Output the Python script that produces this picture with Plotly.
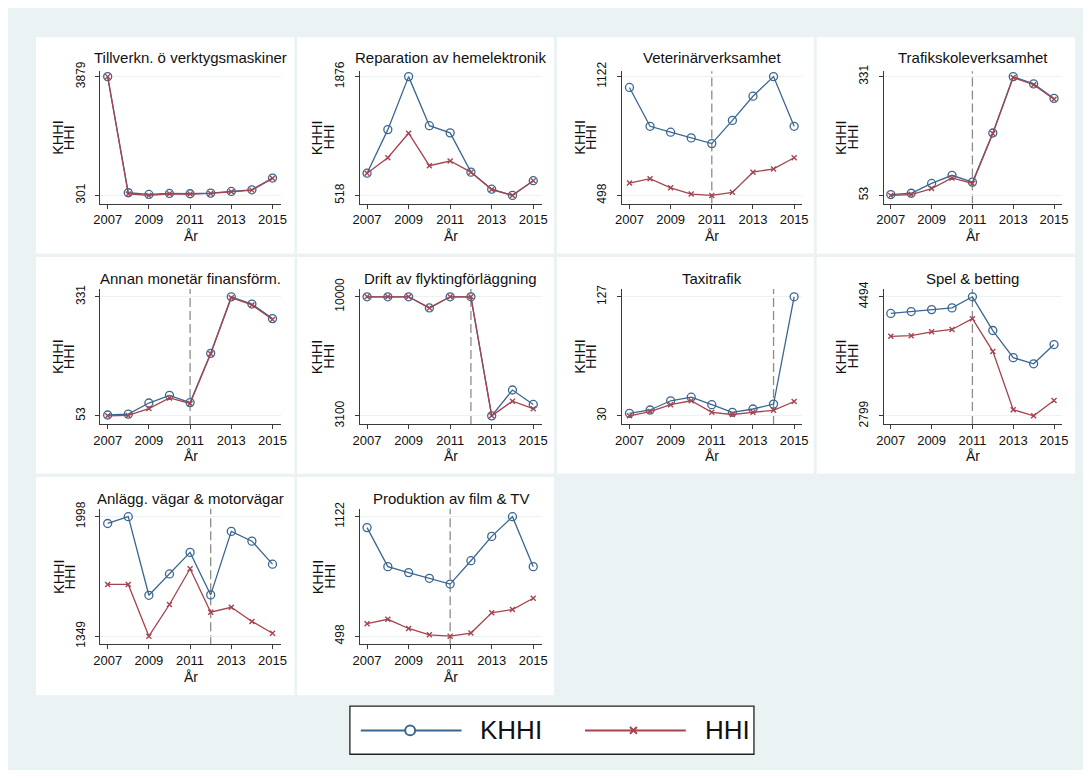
import plotly.graph_objects as go

# ---------------- data ----------------
years = [2007, 2008, 2009, 2010, 2011, 2012, 2013, 2014, 2015]

titles = [
    "Tillverkn. ö verktygsmaskiner",
    "Reparation av hemelektronik",
    "Veterinärverksamhet",
    "Trafikskoleverksamhet",
    "Annan monetär finansförm.",
    "Drift av flyktingförläggning",
    "Taxitrafik",
    "Spel & betting",
    "Anlägg. vägar & motorvägar",
    "Produktion av film & TV",
]

khhi_tillverkn = [3879, 380, 330, 360, 350, 370, 420, 470, 823]
hhi_tillverkn = [3879, 345, 301, 350, 340, 360, 410, 460, 815]

khhi_reparation = [772, 1270, 1876, 1315, 1233, 784, 589, 518, 686]
hhi_reparation = [772, 948, 1229, 858, 911, 784, 585, 518, 686]

khhi_veterinar = [1065, 861, 830, 800, 770, 892, 1019, 1122, 861]
hhi_veterinar = [563, 586, 538, 505, 498, 514, 620, 637, 696]

khhi_trafikskola = [55, 58, 81, 100, 84, 199, 331, 314, 280]
hhi_trafikskola = [53, 55, 69, 94, 81, 198, 329, 312, 278]

khhi_monetar = [55, 57, 83, 101, 84, 199, 331, 314, 280]
hhi_monetar = [53, 54, 70, 95, 82, 198, 329, 312, 278]

khhi_flykting = [10000, 10000, 10000, 9355, 10000, 10000, 3100, 4598, 3764]
hhi_flykting = [10000, 10000, 10000, 9355, 10000, 10000, 3100, 3953, 3517]

khhi_taxi = [32.1, 34.8, 42.3, 45.2, 39.1, 32.9, 35.6, 39.6, 127]
hhi_taxi = [30, 33.5, 39.1, 42.3, 32.9, 31.1, 32.9, 34.5, 41.7]

khhi_spel = [4257, 4284, 4312, 4336, 4494, 4014, 3628, 3540, 3814]
hhi_spel = [3931, 3941, 3996, 4029, 4182, 3717, 2887, 2799, 3018]

khhi_vagar = [1961, 1998, 1571, 1687, 1804, 1573, 1918, 1865, 1740]
hhi_vagar = [1630, 1630, 1349, 1521, 1715, 1479, 1506, 1429, 1365]

khhi_film = [1065, 861, 830, 800, 770, 892, 1019, 1122, 861]
hhi_film = [563, 586, 538, 505, 498, 514, 620, 637, 696]

break_years = [None, None, 2011, 2011, 2011, 2012, 2014, 2011, 2012, 2011]

x_tickvals = [2007, 2009, 2011, 2013, 2015]

khhi_all = [khhi_tillverkn, khhi_reparation, khhi_veterinar, khhi_trafikskola,
            khhi_monetar, khhi_flykting, khhi_taxi, khhi_spel, khhi_vagar, khhi_film]
hhi_all = [hhi_tillverkn, hhi_reparation, hhi_veterinar, hhi_trafikskola,
           hhi_monetar, hhi_flykting, hhi_taxi, hhi_spel, hhi_vagar, hhi_film]

# ---------------- geometry / style ----------------
PAGE = 8                      # default page margin around the figure
W, H = 1091 - 2 * PAGE, 778 - 2 * PAGE
BLUE = "#3b6690"
RED = "#a5444f"
BG = "#eaf2f3"
AXIS = "#3a3a3a"
FONT = "Arial, Liberation Sans, sans-serif"
TXT = "#111111"

# screen-pixel layout of the grid
col_axis = [(94.5, 277.0), (357.0, 541.0), (622.7, 805.0), (887.3, 1068.0)]
col_panel = [(29.3, 291.0), (293.5, 553.5), (556.5, 816.5), (819.5, 1081.0)]
row_panel = [(26.5, 247.0), (250.5, 471.0), (474.5, 697.0)]
row_tick_top = [66.7, 291.0, 515.0]
row_tick_span = [121.0, 121.3, 121.7]
row_pad_top = [5.5, 8.0, 8.0]
PAD_BOTTOM = 8.3
X_RANGE = [2006.65, 2015.4]


def px(x):
    return (x - PAGE) / W


def py(y):
    return 1 - (y - PAGE) / H


fig = go.Figure()
layout = {}
shapes = []
annotations = []

for i in range(10):
    r, c = divmod(i, 4)
    k = "" if i == 0 else str(i + 1)
    x0, x1 = col_axis[c]
    t_top = row_tick_top[r]
    t_bot = t_top + row_tick_span[r]
    top = t_top - row_pad_top[r]
    bottom = t_bot + PAD_BOTTOM

    pl, pr = col_panel[c]
    pt, pb = row_panel[r]
    shapes.append(dict(type="rect", xref="paper", yref="paper",
                       x0=px(pl), x1=px(pr), y0=py(pb), y1=py(pt),
                       fillcolor="white", line=dict(width=0), layer="below"))

    kh = khhi_all[i]
    hh = hhi_all[i]
    vmin = min(min(kh), min(hh))
    vmax = max(max(kh), max(hh))
    span = vmax - vmin
    ppu = (t_bot - t_top) / span
    yr = [vmin - PAD_BOTTOM / ppu, vmax + row_pad_top[r] / ppu]

    layout["xaxis" + k] = dict(
        domain=[px(x0), px(x1)], anchor="y" + k, range=X_RANGE,
        tickvals=x_tickvals, ticktext=[str(v) for v in x_tickvals],
        ticks="outside", ticklen=4, tickwidth=1, tickcolor=AXIS, ticklabelstandoff=0,
        showline=True, linecolor=AXIS, linewidth=1, showgrid=False, zeroline=False,
        tickfont=dict(size=13, color=TXT, family=FONT), fixedrange=True,
    )
    layout["yaxis" + k] = dict(
        domain=[py(bottom), py(top)], anchor="x" + k, range=yr,
        tickvals=[vmin, vmax], ticktext=[str(int(round(vmin))), str(int(round(vmax)))],
        ticks="outside", ticklen=4, tickwidth=1, tickcolor=AXIS, tickangle=-90,
        ticklabelstandoff=6,
        showline=True, linecolor=AXIS, linewidth=1, showgrid=True, gridcolor=BG, gridwidth=1,
        zeroline=False, tickfont=dict(size=12, color=TXT, family=FONT), fixedrange=True,
    )

    fig.add_trace(go.Scatter(
        x=years, y=kh, xaxis="x" + k, yaxis="y" + k, mode="lines+markers", name="KHHI",
        line=dict(color=BLUE, width=1.3),
        marker=dict(symbol="circle-open", size=8, color=BLUE, line=dict(width=1.3, color=BLUE)),
        showlegend=False, cliponaxis=False,
    ))
    fig.add_trace(go.Scatter(
        x=years, y=hh, xaxis="x" + k, yaxis="y" + k, mode="lines+markers", name="HHI",
        line=dict(color=RED, width=1.3),
        marker=dict(symbol="x-thin", size=5, color=RED, line=dict(width=1.4, color=RED)),
        showlegend=False, cliponaxis=False,
    ))

    if break_years[i] is not None:
        shapes.append(dict(type="line", xref="x" + k, yref="y" + k + " domain",
                           x0=break_years[i], x1=break_years[i], y0=0, y1=1,
                           line=dict(color="#8c8c8c", width=1.3, dash="9px,4px"), layer="below"))

    cx = (x0 + x1) / 2
    annotations.append(dict(text=titles[i], x=px(cx), y=py(t_top - 19), xref="paper", yref="paper",
                            xanchor="center", yanchor="middle", showarrow=False,
                            font=dict(size=15, color=TXT, family=FONT)))
    annotations.append(dict(text="År", x=px(cx), y=py(bottom + 33), xref="paper", yref="paper",
                            xanchor="center", yanchor="middle", showarrow=False,
                            font=dict(size=14, color=TXT, family=FONT)))
    cy = (top + bottom) / 2
    annotations.append(dict(text="KHHI", x=px(x0 - 42.5), y=py(cy), xref="paper", yref="paper",
                            xanchor="center", yanchor="middle", showarrow=False, textangle=-90,
                            font=dict(size=14.5, color=TXT, family=FONT)))
    annotations.append(dict(text="HHI", x=px(x0 - 31), y=py(cy), xref="paper", yref="paper",
                            xanchor="center", yanchor="middle", showarrow=False, textangle=-90,
                            font=dict(size=14.5, color=TXT, family=FONT)))

# ---------------- legend (drawn) ----------------
shapes.append(dict(type="rect", xref="paper", yref="paper", x0=px(347), x1=px(756), y0=py(757), y1=py(708),
                   fillcolor="white", line=dict(color="#222222", width=1.3)))
ly = 732.7
shapes.append(dict(type="line", xref="paper", yref="paper", x0=px(358), x1=px(460), y0=py(ly), y1=py(ly),
                   line=dict(color=BLUE, width=2)))
shapes.append(dict(type="circle", xref="paper", yref="paper", x0=px(403), x1=px(413), y0=py(ly + 5), y1=py(ly - 5),
                   fillcolor="white", line=dict(color=BLUE, width=2)))
shapes.append(dict(type="line", xref="paper", yref="paper", x0=px(585), x1=px(687), y0=py(ly), y1=py(ly),
                   line=dict(color=RED, width=2)))
mx, m = 634, 3.5
shapes.append(dict(type="path", xref="paper", yref="paper",
                   path=(f"M{px(mx - m)},{py(ly - m)} L{px(mx + m)},{py(ly + m)} "
                         f"M{px(mx - m)},{py(ly + m)} L{px(mx + m)},{py(ly - m)}"),
                   line=dict(color=RED, width=2)))
annotations.append(dict(text="KHHI", x=px(477), y=py(ly), xref="paper", yref="paper",
                        xanchor="left", yanchor="middle", showarrow=False,
                        font=dict(size=26, color=TXT, family=FONT)))
annotations.append(dict(text="HHI", x=px(704), y=py(ly), xref="paper", yref="paper",
                        xanchor="left", yanchor="middle", showarrow=False,
                        font=dict(size=26, color=TXT, family=FONT)))

fig.update_layout(
    width=W, height=H, margin=dict(l=0, r=0, t=0, b=0),
    paper_bgcolor=BG, plot_bgcolor="white",
    font=dict(family=FONT, color=TXT),
    shapes=shapes, annotations=annotations, showlegend=False,
    **layout,
)

fig.write_html("out.html")
